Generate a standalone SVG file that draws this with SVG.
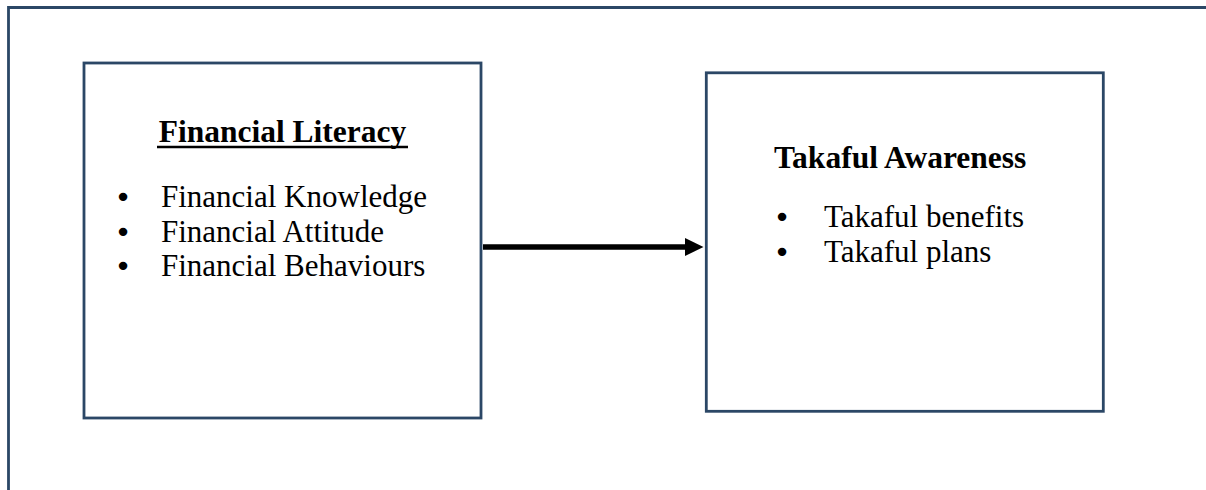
<svg xmlns="http://www.w3.org/2000/svg" width="1206" height="490" viewBox="0 0 1206 490">
<style>
.frame{fill:none;stroke:#2B4766;stroke-width:2.8}
.box{fill:#ffffff;stroke:#2B4766;stroke-width:2.8}
.t{font-family:"Liberation Serif","Times New Roman",serif;fill:#000;font-size:31px}
.h{font-family:"Liberation Serif","Times New Roman",serif;fill:#000;font-size:31.5px;font-weight:bold}
.b{font-family:"DejaVu Sans",sans-serif;fill:#000;font-size:29px}
</style>
<rect width="1206" height="490" fill="#ffffff"/>
<g id="frame">
<polyline class="frame" points="8.5,490 8.5,7.5 1206,7.5"/>
</g>
<g id="financial-literacy">
<rect class="box" x="84" y="63" width="397" height="355"/>
<text class="h" x="282.5" y="142" text-anchor="middle">Financial Literacy</text>
<line x1="157" y1="147" x2="408" y2="147" stroke="#000" stroke-width="2.5"/>
<text class="b" x="123" y="207" text-anchor="middle">•</text>
<text class="t" x="161" y="207">Financial Knowledge</text>
<text class="b" x="123" y="241.5" text-anchor="middle">•</text>
<text class="t" x="161" y="241.5">Financial Attitude</text>
<text class="b" x="123" y="276" text-anchor="middle">•</text>
<text class="t" x="161" y="276">Financial Behaviours</text>
</g>
<g id="takaful-awareness">
<rect class="box" x="706.3" y="72.8" width="397" height="338.5"/>
<text class="h" x="774" y="168">Takaful Awareness</text>
<text class="b" x="782" y="227" text-anchor="middle">•</text>
<text class="t" x="824" y="227">Takaful benefits</text>
<text class="b" x="782" y="261.5" text-anchor="middle">•</text>
<text class="t" x="824" y="261.5">Takaful plans</text>
</g>
<g id="connectors">
<line x1="483" y1="247" x2="688" y2="247" stroke="#000" stroke-width="5.5"/>
<polygon points="685,238 703.5,247 685,256" fill="#000"/>
</g>
</svg>
